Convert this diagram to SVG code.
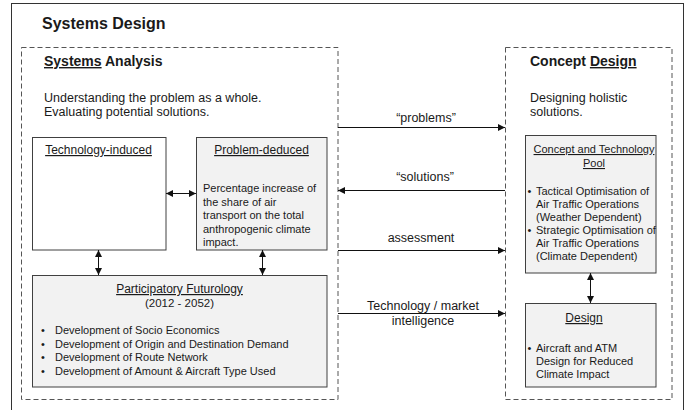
<svg xmlns="http://www.w3.org/2000/svg" width="686" height="410" viewBox="0 0 686 410">
<defs>
<marker id="ah" viewBox="0 0 7 7" refX="7" refY="3.5" markerWidth="7" markerHeight="7" markerUnits="userSpaceOnUse" orient="auto-start-reverse">
<path d="M0,0 L7,3.5 L0,7 z" fill="#111"/>
</marker>
<style>
text{font-family:"Liberation Sans",Arial,sans-serif;fill:#1a1a1a}
.h1{font-size:16px;font-weight:bold}
.h2{font-size:14px;font-weight:bold}
.d{font-size:12.5px}
.t{font-size:12px;text-decoration:underline}
.b{font-size:11px}
.u{text-decoration:underline}
.m{text-anchor:middle}
.frame{fill:none;stroke:#333;stroke-width:1}
.dash{fill:none;stroke:#555;stroke-width:1;stroke-dasharray:5 3}
.box{stroke:#404040;stroke-width:1}
.grey{fill:#f2f2f2}
.white{fill:#fff}
.con{stroke:#111;stroke-width:1;fill:none;marker-end:url(#ah)}
.dbl{marker-start:url(#ah)}
</style>
</defs>
<rect width="686" height="410" fill="#fff"/>
<g id="systems-design">
<rect class="frame" x="11.5" y="3.5" width="672" height="420"/>
<text class="h1" x="42" y="29">Systems Design</text>
</g>
<g id="systems-analysis">
<rect class="dash" x="21.5" y="47.5" width="316.5" height="352"/>
<text class="h2" x="44" y="66"><tspan class="u">Systems</tspan> Analysis</text>
<text class="d" x="44" y="101.5">Understanding the problem  as a whole.</text>
<text class="d" x="44" y="115.5">Evaluating potential solutions.</text>
</g>
<g id="concept-design">
<rect class="dash" x="505.5" y="47.5" width="166.5" height="352"/>
<text class="h2" x="530" y="66">Concept <tspan class="u">Design</tspan></text>
<text class="d" x="530" y="101.5">Designing holistic</text>
<text class="d" x="530" y="115.5">solutions.</text>
</g>
<g id="technology-induced">
<rect class="box white" x="32.5" y="137.5" width="133.5" height="112.5"/>
<text class="t m" x="98.5" y="154">Technology-induced</text>
</g>
<g id="problem-deduced">
<rect class="box grey" x="196.5" y="137.5" width="130.5" height="112.5"/>
<text class="t m" x="261.5" y="154">Problem-deduced</text>
<text class="b" x="203" y="192">Percentage increase of</text>
<text class="b" x="203" y="205.5">the share of air</text>
<text class="b" x="203" y="219">transport on the total</text>
<text class="b" x="203" y="232.5">anthropogenic climate</text>
<text class="b" x="203" y="246">impact.</text>
</g>
<g id="participatory-futurology">
<rect class="box grey" x="32.5" y="275.5" width="294.5" height="111.5"/>
<text class="t m" x="179.5" y="293">Participatory Futurology</text>
<text class="b m" x="179.5" y="307" style="font-size:11.5px">(2012 - 2052)</text>
<text class="b" x="41" y="334">•</text><text class="b" x="55" y="334">Development  of Socio Economics</text>
<text class="b" x="41" y="347.5">•</text><text class="b" x="55" y="347.5">Development  of Origin and Destination Demand</text>
<text class="b" x="41" y="361">•</text><text class="b" x="55" y="361">Development  of Route Network</text>
<text class="b" x="41" y="374.5">•</text><text class="b" x="55" y="374.5">Development  of Amount &amp; Aircraft Type  Used</text>
</g>
<g id="concept-technology-pool">
<rect class="box grey" x="525.5" y="135.5" width="130.5" height="137.5"/>
<text class="t m" x="594" y="153" style="font-size:11px">Concept and Technology</text>
<text class="t m" x="594" y="167" style="font-size:11px">Pool</text>
<text class="b" x="527.5" y="195">•</text><text class="b" x="536" y="195">Tactical Optimisation of</text>
<text class="b" x="536" y="208">Air Traffic Operations</text>
<text class="b" x="536" y="221">(Weather Dependent)</text>
<text class="b" x="527.5" y="234">•</text><text class="b" x="536" y="234">Strategic Optimisation of</text>
<text class="b" x="536" y="247">Air Traffic Operations</text>
<text class="b" x="536" y="260">(Climate Dependent)</text>
</g>
<g id="design">
<rect class="box grey" x="525.5" y="303.5" width="130.5" height="83.5"/>
<text class="t m" x="584" y="322">Design</text>
<text class="b" x="527.5" y="352">•</text><text class="b" x="536" y="352">Aircraft and ATM</text>
<text class="b" x="536" y="365">Design for Reduced</text>
<text class="b" x="536" y="378">Climate Impact</text>
</g>
<g id="connectors">
<line class="con" x1="338" y1="127.5" x2="505" y2="127.5"/>
<text class="d m" x="426" y="122">“problems”</text>
<line class="con" x1="505" y1="190.5" x2="338" y2="190.5"/>
<text class="d m" x="425" y="181">“solutions”</text>
<line class="con" x1="338" y1="250.5" x2="505" y2="250.5"/>
<text class="d m" x="421" y="242">assessment</text>
<line class="con" x1="338" y1="313.5" x2="505" y2="313.5"/>
<text class="d m" x="423" y="310">Technology / market</text>
<text class="d m" x="423" y="325">intelligence</text>
<line class="con dbl" x1="166" y1="193.5" x2="196" y2="193.5"/>
<line class="con dbl" x1="98.5" y1="250" x2="98.5" y2="275"/>
<line class="con dbl" x1="262.5" y1="250" x2="262.5" y2="275"/>
<line class="con dbl" x1="590.5" y1="273" x2="590.5" y2="303"/>
</g>
</svg>
